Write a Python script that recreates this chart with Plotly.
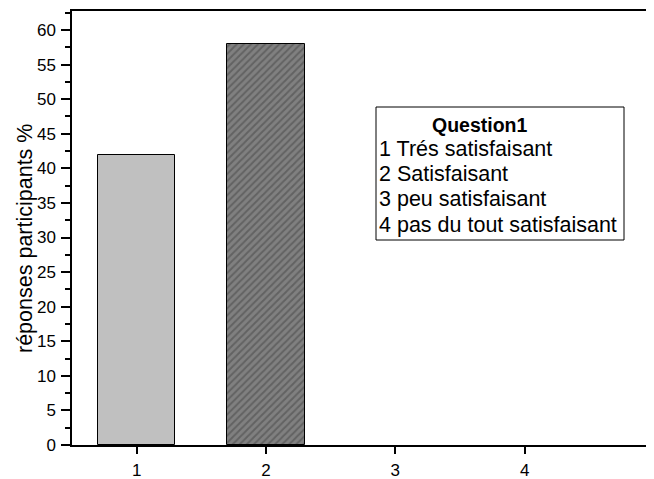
import plotly.graph_objects as go

categories = [1, 2, 3, 4]
values = [42, 58, 0, 0]
fill_colors = ["#c0c0c0", "#808080", "#c0c0c0", "#c0c0c0"]
pattern_shapes = ["", "/", "", ""]
y_ticks = list(range(0, 61, 5))
x_ticks = [1, 2, 3, 4]
legend_title = "Question1"
legend_lines = ["1 Trés satisfaisant", "2 Satisfaisant", "3 peu satisfaisant", "4 pas du tout satisfaisant"]
y_title = "réponses participants %"

# page body has an 8px margin; size the figure so it ends at the window edge
PAD = 8
W, H = 654, 479
ML, MR, MT, MB = 72, 0, 11, 34
FW, FH = W - PAD, H - PAD
PW, PH = W - ML - MR, H - MT - MB

def px_x(x):
    return (x - ML) / PW

def px_y(y):
    return (H - MB - y) / PH

font = "Liberation Sans, Arial, sans-serif"

fig = go.Figure()
fig.add_trace(go.Bar(
    x=categories, y=values, width=0.6,
    marker=dict(
        color=fill_colors,
        line=dict(color="black", width=[1 if v > 0 else 0 for v in values]),
        pattern=dict(shape=pattern_shapes, fgcolor="#1a1a1a", bgcolor="#808080", size=5, solidity=0.4),
    ),
    showlegend=False,
))

fig.update_layout(
    width=FW, height=FH,
    margin=dict(l=ML - PAD, r=MR, t=MT - PAD, b=MB, autoexpand=False),
    plot_bgcolor="white", paper_bgcolor="white",
    font=dict(family=font, color="black"),
    bargap=0,
)
fig.update_xaxes(
    range=[0.5, 5.0], tickvals=x_ticks, ticktext=[str(t) for t in x_ticks],
    showgrid=False, zeroline=False,
    showline=True, linecolor="black", linewidth=1.5, mirror=True,
    ticks="outside", ticklen=7, tickwidth=1.5, tickcolor="black",
    tickfont=dict(size=17, family=font), ticklabelstandoff=2,
)
fig.update_yaxes(
    range=[0, 62.75], tickvals=y_ticks,
    showgrid=False, zeroline=False,
    showline=True, linecolor="black", linewidth=1.5,
    ticks="outside", ticklen=9, tickwidth=1.5, tickcolor="black",
    tickfont=dict(size=17, family=font), ticklabelstandoff=2,
    minor=dict(dtick=2.5, ticks="outside", ticklen=5, tickwidth=1.5, tickcolor="black", showgrid=False),
)

# y-axis title
fig.add_annotation(xref="paper", yref="paper", x=px_x(25), y=px_y(239),
                   text=y_title, textangle=-90, showarrow=False,
                   xanchor="center", yanchor="middle", font=dict(size=21.5, family=font))

# legend box
fig.add_shape(type="rect", xref="paper", yref="paper",
              x0=px_x(376), x1=px_x(624), y0=px_y(240), y1=px_y(107),
              line=dict(color="black", width=1), fillcolor="white")
fig.add_annotation(xref="paper", yref="paper", x=px_x(480), y=px_y(125),
                   text="<b>" + legend_title + "</b>", showarrow=False,
                   xanchor="center", yanchor="middle", font=dict(size=19.5, family=font))
line_ys = [149, 174, 199, 225]
for txt, yy in zip(legend_lines, line_ys):
    fig.add_annotation(xref="paper", yref="paper", x=px_x(377), y=px_y(yy),
                       text=txt, showarrow=False, xanchor="left", yanchor="middle",
                       font=dict(size=21.5, family=font))

fig.write_html("out.html")
